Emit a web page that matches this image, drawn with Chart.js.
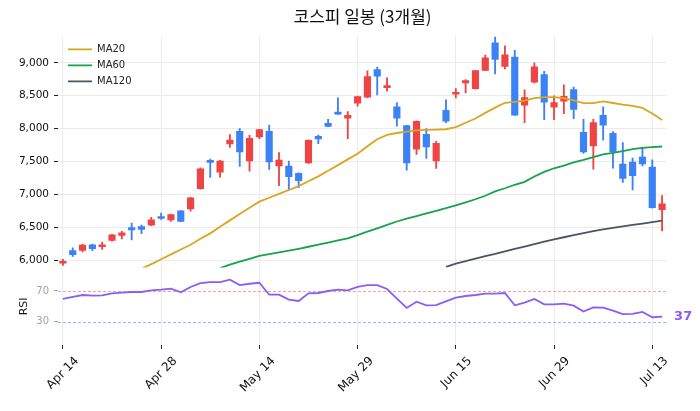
<!DOCTYPE html>
<html>
<head>
<meta charset="utf-8">
<script src="https://cdn.jsdelivr.net/npm/chart.js@4.4.1/dist/chart.umd.min.js"></script>
<style>
  html, body { margin: 0; padding: 0; background: #fff; }
</style>
</head>
<body>
<canvas id="kospi" width="700" height="411"></canvas>
<script>
// trading days (category axis)
const dates = [
  'Apr 14', 'Apr 15', 'Apr 16', 'Apr 17', 'Apr 18', 'Apr 21', 'Apr 22', 'Apr 23', 'Apr 24', 'Apr 25',
  'Apr 28', 'Apr 29', 'Apr 30', 'May 2', 'May 6', 'May 7', 'May 8', 'May 9', 'May 12', 'May 13',
  'May 14', 'May 15', 'May 16', 'May 19', 'May 20', 'May 21', 'May 22', 'May 23', 'May 26', 'May 27',
  'May 29', 'May 30', 'Jun 2', 'Jun 3', 'Jun 4', 'Jun 5', 'Jun 9', 'Jun 10', 'Jun 11', 'Jun 12',
  'Jun 15', 'Jun 16', 'Jun 17', 'Jun 18', 'Jun 19', 'Jun 22', 'Jun 23', 'Jun 24', 'Jun 25', 'Jun 26',
  'Jun 29', 'Jun 30', 'Jul 1', 'Jul 2', 'Jul 3', 'Jul 6', 'Jul 7', 'Jul 8', 'Jul 9', 'Jul 10',
  'Jul 13', 'Jul 14'
];
const tickDates = ['Apr 14', 'Apr 28', 'May 14', 'May 29', 'Jun 15', 'Jun 29', 'Jul 13'];
const priceTicks = [6000, 6500, 7000, 7500, 8000, 8500, 9000];
const rsiLevels = [30, 70];

const opens = [
  5960, 6151, 6155, 6241, 6210, 6306, 6381, 6502, 6517, 6538,
  6659, 6618, 6754, 6784, 7090, 7520, 7342, 7769, 7960, 7512,
  7875, 7960, 7437, 7433, 7323, 7482, 7885, 8081, 8242, 8161,
  8387, 8478, 8896, 8624, 8333, 8046, 7689, 7915, 7512, 8277,
  8523, 8694, 8609, 8885, 9303, 8945, 9088, 8357, 8704, 8820,
  8327, 8417, 8594, 7945, 7739, 8202, 7930, 7463, 7493, 7568,
  7418, 6774
];
const highs = [
  6020, 6192, 6252, 6252, 6282, 6400, 6442, 6568, 6538, 6655,
  6720, 6705, 6760, 6960, 7407, 7538, 7520, 7910, 8001, 7900,
  7990, 8055, 7639, 7508, 7330, 7830, 7905, 8141, 8469, 8258,
  8495, 8876, 8936, 8770, 8398, 8050, 8120, 8001, 7810, 8438,
  8608, 8744, 8885, 9117, 9400, 9257, 9188, 8589, 9000, 8870,
  8498, 8665, 8630, 8141, 8141, 8333, 7955, 7790, 7553, 7714,
  7528, 6985
];
const lows = [
  5925, 6065, 6131, 6150, 6170, 6295, 6327, 6312, 6407, 6530,
  6623, 6595, 6590, 6750, 7085, 7262, 7267, 7715, 7428, 7357,
  7850, 7383, 7136, 7076, 7105, 7475, 7775, 8030, 8215, 7850,
  8343, 8470, 8514, 8569, 8040, 7372, 7609, 7549, 7397, 8091,
  8468, 8543, 8600, 8880, 8830, 8906, 8200, 8091, 8695, 8137,
  8137, 8227, 8152, 7625, 7387, 7825, 7402, 7187, 7071, 7437,
  6795, 6450
];
const closes = [
  5985, 6090, 6237, 6181, 6222, 6392, 6422, 6467, 6472, 6618,
  6638, 6698, 6593, 6950, 7392, 7490, 7508, 7829, 7648, 7855,
  7986, 7497, 7523, 7271, 7211, 7825, 7845, 8036, 8221, 8202,
  8488, 8790, 8795, 8654, 8161, 7482, 8111, 7724, 7779, 8116,
  8553, 8729, 8880, 9076, 9051, 9122, 8206, 8473, 8940, 8402,
  8397, 8493, 8292, 7648, 8092, 8055, 7648, 7247, 7287, 7468,
  6804, 6860
];

const ma20 = [
  null, null, null, null, null, null, null, null, 5875, 5946,
  6020, 6094, 6168, 6240, 6330, 6413, 6514, 6610, 6705, 6800,
  6894, 6953, 7012, 7071, 7130, 7203, 7277, 7362, 7448, 7535,
  7620, 7735, 7840, 7905, 7935, 7955, 7975, 7983, 7987, 7992,
  8025, 8090, 8155, 8240, 8320, 8393, 8408, 8425, 8465, 8478,
  8478, 8462, 8430, 8387, 8387, 8415, 8390, 8365, 8345, 8315,
  8230, 8131
];
const ma60 = [
  null, null, null, null, null, null, null, null, null, null,
  null, null, null, null, null, null, 5885, 5938, 5983, 6027,
  6071, 6098, 6125, 6151, 6179, 6210, 6242, 6273, 6305, 6336,
  6386, 6438, 6490, 6541, 6593, 6636, 6675, 6716, 6755, 6795,
  6836, 6882, 6930, 6983, 7050, 7097, 7150, 7195, 7275, 7345,
  7400, 7440, 7488, 7527, 7570, 7610, 7635, 7660, 7690, 7708,
  7720, 7730
];
const ma120 = [
  null, null, null, null, null, null, null, null, null, null,
  null, null, null, null, null, null, null, null, null, null,
  null, null, null, null, null, null, null, null, null, null,
  null, null, null, null, null, null, null, null, null, 5905,
  5955, 5992, 6029, 6066, 6103, 6140, 6176, 6213, 6250, 6287,
  6323, 6354, 6385, 6415, 6446, 6474, 6496, 6519, 6541, 6562,
  6584, 6606
];
const rsi = [
  59.7, 62.3, 64.8, 63.9, 64.3, 66.9, 67.8, 68.7, 68.7, 70.8,
  71.7, 73.0, 68.2, 75.2, 80.3, 81.6, 81.6, 84.6, 77.7, 79.4,
  80.7, 65.2, 65.2, 58.8, 57.1, 66.9, 67.4, 70.0, 71.7, 70.9,
  75.2, 77.7, 77.7, 72.6, 60.1, 48.1, 56.2, 51.4, 51.8, 56.6,
  61.4, 63.5, 64.8, 66.5, 66.5, 67.4, 51.4, 54.9, 59.7, 52.7,
  52.7, 53.6, 51.0, 43.3, 48.8, 48.4, 44.6, 39.9, 40.3, 42.9,
  36.0, 36.8
];

const UP = '#ef4444';
const DOWN = '#3b82f6';
const GRID = '#ebebeb';
const candleColors = opens.map((o, i) => closes[i] >= o ? UP : DOWN);

// keep each dataset inside its own panel (price / RSI)
const panelClip = {
  id: 'panelClip',
  beforeDatasetDraw(chart, args) {
    const ds = chart.data.datasets[args.index];
    const s = chart.scales[ds.yAxisID];
    const a = chart.chartArea;
    const ctx = chart.ctx;
    ctx.save();
    ctx.beginPath();
    ctx.rect(a.left, s.top, a.right - a.left, s.bottom - s.top);
    ctx.clip();
  },
  afterDatasetDraw(chart) {
    chart.ctx.restore();
  }
};

// dashed overbought / oversold guides in the RSI panel
const rsiGuides = {
  id: 'rsiGuides',
  beforeDatasetsDraw(chart) {
    const s = chart.scales.yr;
    const a = chart.chartArea;
    const ctx = chart.ctx;
    ctx.save();
    ctx.lineWidth = 1;
    ctx.setLineDash([3, 2]);
    rsiLevels.forEach(v => {
      const y = Math.round(s.getPixelForValue(v)) + 0.5;
      ctx.strokeStyle = v >= 50 ? 'rgba(239,68,68,0.5)' : 'rgba(59,130,246,0.55)';
      ctx.beginPath();
      ctx.moveTo(a.left, y);
      ctx.lineTo(a.right, y);
      ctx.stroke();
    });
    ctx.restore();
  }
};

// legend sits in the top-left corner of the price panel
const legendInPanel = {
  id: 'legendInPanel',
  afterLayout(chart) {
    const lg = chart.legend;
    const a = chart.chartArea;
    const h = lg.height;
    lg.left = a.left + 4;
    lg.top = a.top + 2;
    lg.bottom = lg.top + h;
  }
};

// last RSI value printed right of the line
const lastRsiLabel = {
  id: 'lastRsiLabel',
  afterDatasetsDraw(chart) {
    const idx = chart.data.datasets.findIndex(d => d.label === 'RSI');
    const pts = chart.getDatasetMeta(idx).data;
    const p = pts[pts.length - 1];
    const ctx = chart.ctx;
    ctx.save();
    ctx.font = 'bold 13px "DejaVu Sans"';
    ctx.fillStyle = '#8b5cf6';
    ctx.textAlign = 'left';
    ctx.textBaseline = 'middle';
    ctx.fillText(String(Math.round(rsi[rsi.length - 1])), p.x + 12, p.y);
    ctx.restore();
  }
};

Chart.defaults.font.family = '"DejaVu Sans", sans-serif';

new Chart(document.getElementById('kospi'), {
  type: 'bar',
  data: {
    labels: dates,
    datasets: [
      {
        type: 'bar', label: 'wick', yAxisID: 'y', order: 5,
        data: lows.map((l, i) => [l, highs[i]]),
        backgroundColor: candleColors, barThickness: 1.2, grouped: false
      },
      {
        type: 'bar', label: 'body', yAxisID: 'y', order: 4,
        data: opens.map((o, i) => [Math.min(o, closes[i]), Math.max(o, closes[i])]),
        backgroundColor: candleColors, barThickness: 6.5, minBarLength: 2, grouped: false
      },
      {
        type: 'line', label: 'MA20', yAxisID: 'y', order: 1, data: ma20,
        borderColor: '#daa520', backgroundColor: '#daa520', borderWidth: 1.8, pointRadius: 0
      },
      {
        type: 'line', label: 'MA60', yAxisID: 'y', order: 2, data: ma60,
        borderColor: '#16a34a', backgroundColor: '#16a34a', borderWidth: 1.8, pointRadius: 0
      },
      {
        type: 'line', label: 'MA120', yAxisID: 'y', order: 3, data: ma120,
        borderColor: '#4b5563', backgroundColor: '#4b5563', borderWidth: 1.8, pointRadius: 0
      },
      {
        type: 'line', label: 'RSI', yAxisID: 'yr', order: 1, data: rsi,
        borderColor: '#8b5cf6', backgroundColor: '#8b5cf6', borderWidth: 1.8, pointRadius: 0
      }
    ]
  },
  options: {
    responsive: false,
    animation: false,
    events: [],
    devicePixelRatio: 1,
    layout: { padding: { left: 0, right: 33, top: 0, bottom: 0 } },
    plugins: {
      title: {
        display: true,
        fullSize: false,
        text: '코스피 일봉 (3개월)',
        color: '#111',
        font: { family: '"Noto Sans CJK KR"', size: 17, weight: 'normal' },
        padding: { top: 6, bottom: 10 }
      },
      legend: {
        position: 'chartArea',
        align: 'start',
        labels: {
          filter: item => item.text.startsWith('MA'),
          usePointStyle: true,
          pointStyle: 'line',
          pointStyleWidth: 24,
          padding: 6,
          color: '#222',
          font: { size: 10 }
        }
      },
      tooltip: { enabled: false }
    },
    scales: {
      x: {
        type: 'category',
        offset: true,
        grid: { offset: false, color: GRID, tickColor: '#222', tickLength: 4 },
        border: { display: false },
        afterBuildTicks: s => { s.ticks = s.ticks.filter(t => tickDates.includes(dates[t.value])); },
        ticks: {
          autoSkip: false, minRotation: 45, maxRotation: 45, labelOffset: 14, padding: 5,
          color: '#111', font: { size: 12 },
          callback: v => dates[v]
        },
        afterFit: s => { s.height = 66; }
      },
      y: {
        type: 'linear', position: 'left', stack: 'panels', stackWeight: 3, weight: 2,
        min: 5890, max: 9400, bounds: 'data',
        afterBuildTicks: s => { s.ticks = priceTicks.map(v => ({ value: v })); },
        grid: { color: GRID, tickColor: '#222', tickLength: 4 },
        border: { display: false },
        ticks: {
          padding: 5, color: '#111', font: { size: 10.5 },
          callback: v => v.toLocaleString('en-US')
        },
        afterFit: s => { s.width = 58; }
      },
      yr: {
        type: 'linear', position: 'left', stack: 'panels', stackWeight: 1, weight: 1,
        min: 0, max: 100, bounds: 'data',
        afterBuildTicks: s => { s.ticks = rsiLevels.map(v => ({ value: v })); },
        grid: { drawOnChartArea: false, color: '#9ca3af', tickLength: 4 },
        border: { display: false },
        ticks: { padding: 5, color: '#9ca3af', font: { size: 10 } },
        title: { display: true, text: 'RSI', color: '#111', font: { size: 11 }, padding: { top: 18, bottom: 0 } },
        afterFit: s => { s.width = 58; }
      }
    }
  },
  plugins: [panelClip, rsiGuides, legendInPanel, lastRsiLabel]
});
</script>
</body>
</html>
